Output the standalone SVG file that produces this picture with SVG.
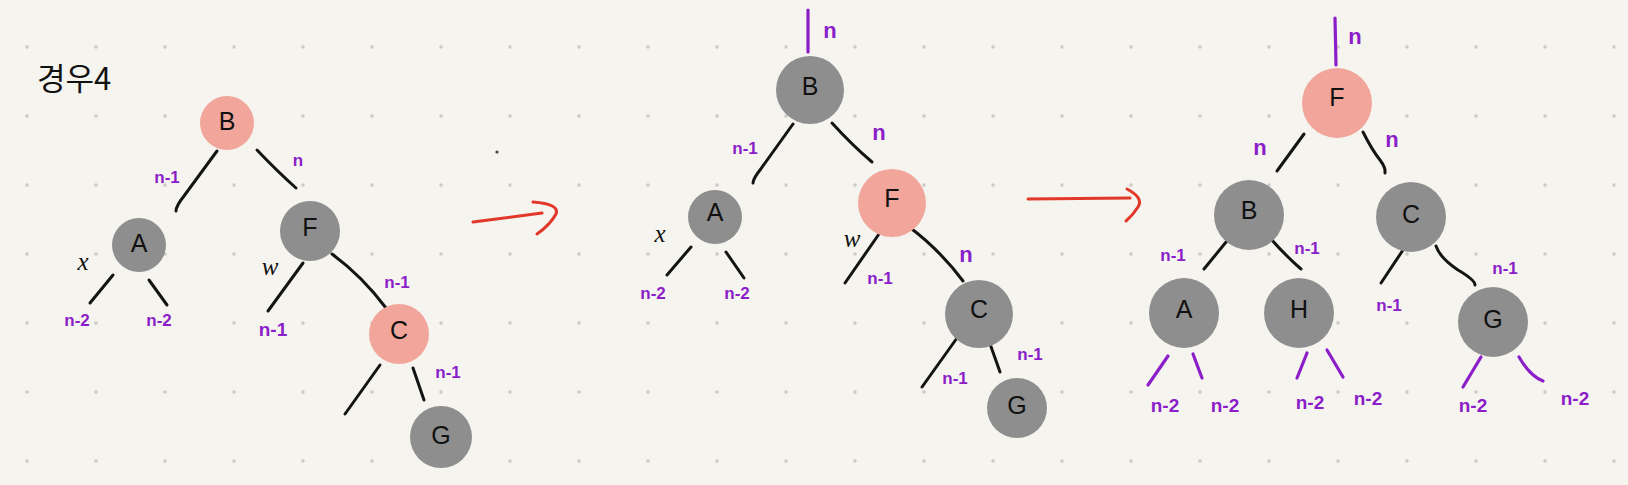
<svg xmlns="http://www.w3.org/2000/svg" width="1628" height="485" viewBox="0 0 1628 485">
<style>
.bg{fill:#F6F4EF}
.pink{fill:#F2A69B}
.gray{fill:#8E8E8E}
.edge{fill:none;stroke:#141414;stroke-width:3;stroke-linecap:round}
.pedge{fill:none;stroke:#8B1EC9;stroke-width:3.2;stroke-linecap:round}
.arrow{fill:none;stroke:#E2382A;stroke-width:3;stroke-linecap:round;stroke-linejoin:round}
.node{font-family:"Liberation Sans","DejaVu Sans",sans-serif;font-size:25px;fill:#111;text-anchor:middle;dominant-baseline:central}
.lbl{font-family:"Liberation Sans","DejaVu Sans",sans-serif;font-size:17px;font-weight:bold;fill:#8B1EC9;text-anchor:middle;dominant-baseline:central}
.big{font-size:22px}
.mid{font-size:19px}
.var{font-family:"Liberation Serif","DejaVu Serif",serif;font-size:25px;font-style:italic;fill:#111;text-anchor:middle;dominant-baseline:central}
.title{font-family:"Noto Sans CJK KR",sans-serif;font-size:31px;fill:#111}
</style>
<defs>
<pattern id="grid" patternUnits="userSpaceOnUse" x="-7.5" y="12.5" width="69" height="69">
<circle cx="34.5" cy="34.5" r="1.7" fill="#C9C6C1"/>
</pattern>
</defs>
<rect class="bg" x="0" y="0" width="1628" height="485"/>
<rect x="0" y="0" width="1628" height="485" fill="url(#grid)"/>
<circle cx="497" cy="152" r="1.6" fill="#444"/>
<text class="title" x="37" y="90">경우4</text>

<g id="connectors">
<!-- panel 1 -->
<path class="edge" d="M217,151 L184,196 Q176,206 176,211"/>
<path class="edge" d="M257,150 Q278,172 296,188"/>
<path class="edge" d="M113,275 L90,303"/>
<path class="edge" d="M149,280 L167,305"/>
<path class="edge" d="M303,263 L268,311"/>
<path class="edge" d="M332,254 Q362,276 386,308"/>
<path class="edge" d="M380,365 L345,414"/>
<path class="edge" d="M413,368 L424,400"/>
<!-- panel 2 -->
<path class="pedge" d="M808,10 L808,52"/>
<path class="edge" d="M793,124 L760,170 Q753,179 753,183"/>
<path class="edge" d="M832,123 Q852,145 872,162"/>
<path class="edge" d="M691,247 L667,275"/>
<path class="edge" d="M726,252 L744,278"/>
<path class="edge" d="M879,234 L845,283"/>
<path class="edge" d="M908,226 Q940,250 963,281"/>
<path class="edge" d="M957,338 L922,387"/>
<path class="edge" d="M989,341 L1000,372"/>
<!-- panel 3 -->
<path class="pedge" d="M1335,18 L1336,65"/>
<path class="edge" d="M1304,134 L1277,171"/>
<path class="edge" d="M1363,132 Q1372,150 1380,160 Q1386,168 1385,173"/>
<path class="edge" d="M1231,236 L1204,269"/>
<path class="edge" d="M1271,239 Q1288,258 1301,269"/>
<path class="edge" d="M1405,247 L1381,283"/>
<path class="edge" d="M1436,246 Q1440,258 1458,270 Q1475,280 1475,285"/>
<path class="pedge" d="M1168,356 L1148,385"/>
<path class="pedge" d="M1193,354 L1202,378"/>
<path class="pedge" d="M1307,353 L1297,378"/>
<path class="pedge" d="M1327,350 L1343,377"/>
<path class="pedge" d="M1481,357 L1463,387"/>
<path class="pedge" d="M1519,357 Q1530,376 1543,381"/>
<!-- arrows -->
<path class="arrow" d="M473,222 L542,213"/>
<path class="arrow" d="M533,202 Q560,204 556,214 Q550,225 537,234"/>
<path class="arrow" d="M1028,199 L1130,198"/>
<path class="arrow" d="M1127,189 Q1144,198 1138,207 Q1133,215 1126,221"/>
</g>

<g id="labels">
<text class="lbl" x="167" y="177">n-1</text>
<text class="lbl" x="298" y="160">n</text>
<text class="var" x="83" y="261">x</text>
<text class="lbl" x="77" y="320">n-2</text>
<text class="lbl" x="159" y="320">n-2</text>
<text class="var" x="270" y="266">w</text>
<text class="lbl mid" x="273" y="329">n-1</text>
<text class="lbl" x="397" y="282">n-1</text>
<text class="lbl" x="448" y="372">n-1</text>

<text class="lbl big" x="830" y="30">n</text>
<text class="lbl" x="745" y="148">n-1</text>
<text class="lbl big" x="879" y="132">n</text>
<text class="var" x="660" y="233">x</text>
<text class="lbl" x="653" y="293">n-2</text>
<text class="lbl" x="737" y="293">n-2</text>
<text class="var" x="852" y="238">w</text>
<text class="lbl" x="880" y="278">n-1</text>
<text class="lbl big" x="966" y="254">n</text>
<text class="lbl" x="955" y="378">n-1</text>
<text class="lbl" x="1030" y="354">n-1</text>

<text class="lbl big" x="1355" y="36">n</text>
<text class="lbl big" x="1260" y="147">n</text>
<text class="lbl big" x="1392" y="139">n</text>
<text class="lbl" x="1173" y="255">n-1</text>
<text class="lbl" x="1307" y="248">n-1</text>
<text class="lbl" x="1389" y="305">n-1</text>
<text class="lbl" x="1505" y="268">n-1</text>
<text class="lbl mid" x="1165" y="405">n-2</text>
<text class="lbl mid" x="1225" y="405">n-2</text>
<text class="lbl mid" x="1310" y="402">n-2</text>
<text class="lbl mid" x="1368" y="398">n-2</text>
<text class="lbl mid" x="1473" y="405">n-2</text>
<text class="lbl mid" x="1575" y="398">n-2</text>
</g>

<g id="p1-B"><circle class="pink" cx="227" cy="123" r="27"/><text class="node" x="227" y="121">B</text></g>
<g id="p1-A"><circle class="gray" cx="139" cy="245" r="27"/><text class="node" x="139" y="243">A</text></g>
<g id="p1-F"><circle class="gray" cx="310" cy="231" r="30"/><text class="node" x="310" y="227">F</text></g>
<g id="p1-C"><circle class="pink" cx="399" cy="334" r="30"/><text class="node" x="399" y="330">C</text></g>
<g id="p1-G"><circle class="gray" cx="441" cy="437" r="31"/><text class="node" x="441" y="435">G</text></g>

<g id="p2-B"><circle class="gray" cx="810" cy="90" r="34"/><text class="node" x="810" y="86">B</text></g>
<g id="p2-A"><circle class="gray" cx="715" cy="217" r="27"/><text class="node" x="715" y="212">A</text></g>
<g id="p2-F"><circle class="pink" cx="892" cy="203" r="34"/><text class="node" x="892" y="198">F</text></g>
<g id="p2-C"><circle class="gray" cx="979" cy="314" r="34"/><text class="node" x="979" y="309">C</text></g>
<g id="p2-G"><circle class="gray" cx="1017" cy="408" r="30"/><text class="node" x="1017" y="405">G</text></g>

<g id="p3-F"><circle class="pink" cx="1337" cy="103" r="35"/><text class="node" x="1337" y="97">F</text></g>
<g id="p3-B"><circle class="gray" cx="1249" cy="215" r="35"/><text class="node" x="1249" y="210">B</text></g>
<g id="p3-C"><circle class="gray" cx="1411" cy="217" r="35"/><text class="node" x="1411" y="214">C</text></g>
<g id="p3-A"><circle class="gray" cx="1184" cy="313" r="35"/><text class="node" x="1184" y="309">A</text></g>
<g id="p3-H"><circle class="gray" cx="1299" cy="313" r="35"/><text class="node" x="1299" y="309">H</text></g>
<g id="p3-G"><circle class="gray" cx="1493" cy="322" r="35"/><text class="node" x="1493" y="319">G</text></g>
</svg>
